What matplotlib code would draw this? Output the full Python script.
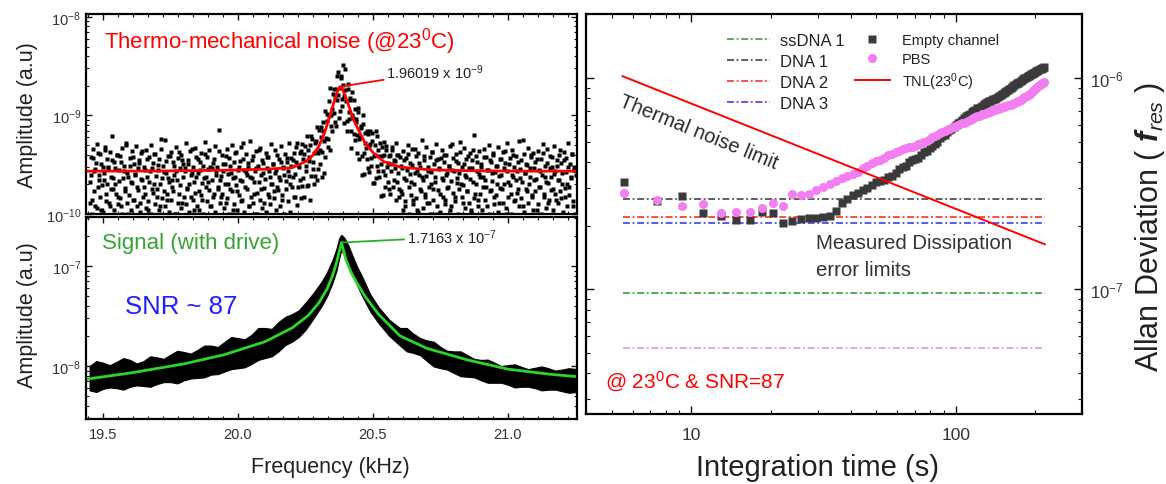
import matplotlib

matplotlib.use("Agg")
import matplotlib.pyplot as plt
import numpy as np
from matplotlib.ticker import (AutoMinorLocator, FormatStrFormatter, FuncFormatter,
                               MultipleLocator, NullFormatter)

plt.rcParams["font.family"] = ["Liberation Sans", "DejaVu Sans"]
plt.rcParams["mathtext.fontset"] = "custom"
plt.rcParams["mathtext.rm"] = "Liberation Sans"
plt.rcParams["mathtext.it"] = "Liberation Sans:italic"
plt.rcParams["mathtext.bf"] = "Liberation Sans:bold"
plt.rcParams["mathtext.bfit"] = "Liberation Sans:italic:bold"

# ---- thermo-mechanical noise spectrum (no drive), units 1e-10
# two interleaved sweeps, 4 Hz bins each, the second offset by 2 Hz
noise_f0, noise_df = 19.45, 0.004
noise_amp_a = [
    2.1, 3.8, 1.4, 4.6, 2.7, 1.2, 3.3, 5.1, 1.9, 2.5, 4.1, 1.1, 3.0, 2.2, 4.8, 1.6, 3.6, 2.9, 1.3, 4.3, 2.4, 6.2, 1.8, 3.4, 2.0,
    4.0, 1.5, 2.8, 3.9, 1.2, 4.7, 2.3, 3.1, 1.7, 5.3, 2.6, 1.0, 3.7, 2.1, 4.4, 1.4, 3.2, 2.5, 4.9, 1.9, 2.9, 3.5, 1.3, 4.2, 2.2,
    3.0, 1.6, 4.5, 2.4, 1.1, 3.8, 2.7, 5.0, 1.8, 3.3, 2.0, 4.1, 1.5, 2.8, 3.6, 1.2, 4.6, 2.3, 3.1, 1.7, 5.6, 2.6, 1.4, 3.9, 2.1,
    4.3, 1.9, 3.4, 2.5, 1.0, 4.8, 2.2, 3.7, 1.6, 2.9, 4.0, 1.3, 3.2, 2.7, 5.2, 1.8, 3.5, 2.0, 4.4, 1.5, 2.6, 3.0, 1.1, 4.7, 2.4,
    3.6, 1.7, 2.8, 4.2, 1.4, 3.1, 2.3, 5.4, 1.9, 3.8, 2.1, 4.5, 1.2, 2.9, 3.3, 1.6, 4.9, 2.5, 3.0, 1.8, 7.1, 2.2, 1.5, 4.0, 2.7,
    3.2, 1.3, 4.6, 2.0, 3.7, 1.8, 2.6, 5.0, 1.1, 3.4, 2.4, 4.3, 1.7, 3.0, 2.2, 4.8, 1.4, 3.6, 2.8, 1.9, 4.1, 2.5, 3.3, 1.2, 5.5,
    2.3, 3.9, 1.6, 2.7, 4.4, 1.0, 3.1, 2.1, 4.7, 1.8, 3.5, 2.6, 1.3, 4.2, 2.9, 3.8, 1.5, 2.4, 5.1, 2.0, 3.2, 1.7, 4.5, 2.8, 1.9,
    3.6, 2.2, 4.9, 1.4, 3.0, 2.5, 4.1, 1.8, 3.4, 2.7, 5.3, 2.0, 3.7,
    2.36, 4.16, 1.5, 3.36, 5.24, 1.87, 3.0, 4.16, 1.46, 5.08, 2.32, 4.03, 3.06, 6.25, 1.95, 3.79, 4.97, 2.44, 5.78, 3.36,
    2.03, 5.25, 4.4, 7.59, 2.88, 4.5, 7.69, 4.28, 7.02, 2.6, 11.0, 5.92, 10.4, 4.79, 9.87, 18.9, 7.84, 11.6, 18.6, 8.64,
    18.6, 14.3, 27.9, 9.35, 19.2, 25.4, 12.5, 32.4, 15.8, 18.0, 6.89, 20.9, 10.8, 15.0, 6.96, 17.1, 9.5, 6.51, 11.7, 8.5,
    4.18, 10.8, 5.78, 7.48, 2.48, 10.0, 4.2, 6.63, 4.64, 7.0, 2.91, 4.94, 6.98, 3.08, 5.53, 2.05, 4.0, 7.02, 3.06, 4.51,
    2.4, 5.25, 3.2, 3.85, 1.55, 5.44, 2.51, 4.46, 3.27, 1.78, 4.01, 2.7, 4.73, 1.88, 3.57, 2.93, 5.2, 2.13, 3.93, 1.5,
    3.1, 1.6, 4.4, 2.3, 1.2, 3.7, 2.8, 5.0, 1.9, 3.3, 2.1, 4.6, 1.4, 2.6, 3.9, 1.1, 4.2, 2.5, 3.0, 1.7, 5.7, 2.2, 3.5, 1.5, 4.8,
    2.7, 1.3, 3.8, 2.0, 4.3, 1.8, 3.2, 2.4, 5.1, 1.0, 3.6, 2.9, 1.6, 4.5, 2.2, 3.4, 1.4, 4.0, 2.6, 1.9, 3.1, 4.9, 1.2, 2.8, 3.7,
    1.5, 4.1, 2.3, 3.3, 1.8, 5.4, 2.0, 3.0, 1.3, 4.7, 2.5, 3.6, 1.7, 2.9, 4.2, 1.1, 3.5, 2.1, 6.4, 1.6, 3.9, 2.7, 1.4, 4.4, 2.4,
    3.2, 1.9, 4.6, 2.2, 3.8, 1.2, 2.8, 5.0, 1.7, 3.4, 2.6, 4.0, 1.5, 3.1, 2.0, 4.8, 1.3, 3.6, 2.5, 1.8, 4.3, 2.9, 3.3, 1.0, 5.2,
    2.1, 3.7, 1.6, 4.5, 2.4, 3.0, 1.4, 3.9, 2.7, 1.8, 5.5, 2.3, 3.5, 1.2, 4.1, 2.6, 3.2, 1.7, 4.7, 2.0, 2.9, 3.8, 1.5, 4.2, 2.2,
    3.4, 1.1, 4.4, 2.8, 1.9, 3.6, 2.5, 5.1, 1.6, 3.1, 2.1, 4.6, 1.3, 3.9, 2.4, 3.0, 1.8, 4.9, 2.7, 1.4, 3.5, 2.2, 4.0, 1.7, 3.3,
    2.6, 4.3, 1.5, 3.7, 2.0, 5.3, 1.9, 3.2, 2.4, 4.1, 1.2, 3.0, 2.8,
]
noise_amp_b = [
    1.3, 2.5, 1.0, 3.7, 1.7, 2.85, 1.15, 4.2, 2.2, 1.5, 3.25, 1.95, 1.05, 2.6, 4.5, 1.35, 2.0, 3.0, 1.2, 1.8, 3.5, 2.3, 1.1, 2.9, 1.6,
    4.0, 1.25, 2.15, 1.45, 3.4, 1.0, 2.7, 1.85, 5.0, 1.3, 2.4, 1.55, 3.1, 1.1, 2.05, 3.8, 1.4, 2.55, 1.2, 1.75, 3.3, 1.05, 2.25, 4.4, 1.5,
    1.9, 2.8, 1.15, 3.6, 1.35, 2.1, 1.0, 2.95, 1.65, 4.1, 1.25, 2.45, 1.8, 3.15, 1.1, 2.0, 5.8, 1.45, 2.65, 1.2, 3.45, 1.6, 2.3, 1.05, 3.9,
    1.4, 2.2, 1.7, 3.05, 1.0, 2.75, 1.3, 4.3, 1.95, 1.15, 3.55, 2.35, 1.5, 2.9, 1.25, 1.85, 3.2, 1.05, 2.5, 4.6, 1.4, 2.1, 1.65, 3.75, 1.2,
    2.6, 1.1, 3.35, 1.55, 2.05, 1.0, 4.05, 2.4, 1.35, 2.85, 1.75, 3.0, 1.2, 2.2, 1.5, 3.65, 1.05, 2.7, 1.9, 4.35, 1.3, 2.45, 1.6, 3.25, 1.15,
    2.0, 3.85, 1.45, 2.55, 1.0, 3.1, 1.7, 2.3, 1.25, 4.15, 1.95, 1.1, 2.8, 1.55, 3.45, 1.35, 2.15, 5.2, 1.05, 2.65, 1.8, 3.0, 1.2, 2.4, 1.5,
    3.55, 1.3, 2.1, 1.0, 2.95, 1.65, 4.45, 1.4, 2.5, 1.15, 3.3, 1.85, 2.25, 1.05, 3.8, 1.6, 2.75, 1.25, 2.0, 3.2, 1.45, 2.6, 1.1, 4.0, 1.75,
    2.35, 1.2, 3.4, 1.55, 2.9, 1.0, 2.15, 3.7, 1.35, 2.45, 1.05, 3.05, 1.9,
    3.54, 1.49, 2.55, 4.73, 1.23, 3.12, 2.21, 4.32, 1.94, 3.61, 1.49, 4.87, 2.72, 1.91, 4.43, 3.43, 1.4, 6.19, 2.89, 4.15,
    2.43, 5.46, 2.2, 4.14, 7.2, 3.25, 6.1, 2.39, 8.54, 5.53, 3.8, 8.88, 5.76, 13.9, 4.51, 10.2, 6.94, 16.5, 10.6, 15.8,
    7.75, 25.2, 16.2, 11.2, 24.0, 14.6, 20.2, 8.33, 29.8, 13.9, 8.87, 18.7, 9.18, 14.4, 4.64, 10.2, 14.5, 5.58, 9.14, 6.32,
    11.8, 3.6, 5.98, 7.8, 3.84, 8.26, 2.52, 5.3, 3.61, 6.5, 2.67, 5.17, 3.69, 6.6, 2.04, 3.9, 5.0, 2.34, 6.13, 2.71,
    3.87, 1.52, 4.79, 2.73, 3.97, 1.87, 4.86, 2.97, 2.13, 3.89, 1.61, 3.18, 4.41, 2.19, 3.41, 1.39, 3.98, 2.58, 1.81, 3.75,
    1.7, 2.9, 1.1, 3.5, 1.35, 2.2, 4.1, 1.0, 2.55, 1.55, 3.15, 1.25, 2.0, 4.6, 1.45, 2.7, 1.05, 3.3, 1.8, 2.35, 1.15, 3.9, 1.6, 2.45, 1.3,
    3.0, 1.9, 1.0, 2.65, 4.25, 1.4, 2.1, 3.55, 1.2, 1.75, 2.85, 1.05, 3.7, 2.3, 1.5, 4.0, 1.25, 2.5, 1.85, 3.1, 1.1, 2.15, 5.1, 1.65, 2.75,
    1.35, 3.45, 2.05, 1.0, 2.6, 4.3, 1.5, 1.95, 3.2, 1.15, 2.4, 1.7, 3.85, 1.3, 2.25, 1.05, 2.9, 4.5, 1.45, 2.0, 3.35, 1.2, 2.55, 1.6, 3.0,
    1.1, 2.35, 3.75, 1.4, 1.9, 2.8, 1.0, 3.5, 1.75, 2.15, 4.15, 1.25, 2.65, 1.55, 3.05, 1.05, 2.45, 1.85, 3.6, 1.3, 2.0, 4.4, 1.15, 2.7, 1.5,
    3.25, 1.95, 1.0, 2.5, 3.95, 1.35, 2.2, 1.65, 3.4, 1.2, 2.85, 1.45, 2.1, 5.6, 1.05, 2.6, 1.8, 3.15, 1.3, 2.35, 4.0, 1.55, 1.1, 2.95, 1.7,
    2.25, 3.65, 1.25, 1.9, 2.75, 1.0, 4.2, 1.5, 2.4, 1.15, 3.3, 2.05, 1.4, 2.9, 1.75, 3.8, 1.1, 2.55, 1.6, 3.1, 1.3, 2.2, 4.45, 1.45, 2.0,
    1.05, 3.5, 1.85, 2.65, 1.2, 3.0, 1.55, 2.3, 4.1, 1.35, 2.8, 1.0, 2.5,
]
# Lorentzian fit of the noise peak (units 1e-10)
noise_fit_f = [19.44, 19.70, 19.95, 20.10, 20.20, 20.25, 20.28, 20.30, 20.32, 20.34, 20.355, 20.37, 20.378,
               20.386, 20.40, 20.415, 20.43, 20.45, 20.47, 20.50, 20.54, 20.60, 20.70, 20.85, 21.05, 21.26]
noise_fit_a = [2.72, 2.73, 2.78, 2.85, 2.95, 3.4, 4.0, 4.9, 6.6, 9.8, 13.5, 18.0, 19.6,
               18.8, 15.0, 11.5, 8.8, 6.8, 5.3, 4.2, 3.4, 3.0, 2.82, 2.75, 2.72, 2.72]
noise_peak = (20.378, 1.96019e-9)

# ---- driven signal: envelope of the measured trace and its fit (units 1e-8)
sig_f = [19.45, 19.475, 19.50, 19.525, 19.55, 19.575, 19.60, 19.625, 19.65, 19.675, 19.70, 19.725,
         19.75, 19.775, 19.80, 19.825, 19.85, 19.875, 19.90, 19.925, 19.95, 19.975, 20.00, 20.025,
         20.05, 20.075, 20.10, 20.125, 20.15, 20.175, 20.20, 20.225, 20.25,
         20.28, 20.31, 20.33, 20.35, 20.365, 20.375, 20.383, 20.395, 20.41, 20.425, 20.44, 20.46,
         20.49, 20.52, 20.56,
         20.60, 20.625, 20.65, 20.675, 20.70, 20.725, 20.75, 20.775, 20.80, 20.825, 20.85, 20.875,
         20.90, 20.925, 20.95, 20.975, 21.00, 21.025, 21.05, 21.075, 21.10, 21.125, 21.15, 21.175,
         21.20, 21.225, 21.26]
sig_upper = [1.0, 1.12, 1.08, 1.02, 1.1, 1.2, 1.15, 1.06, 1.12, 1.25, 1.22, 1.18,
             1.3, 1.42, 1.38, 1.33, 1.45, 1.6, 1.6, 1.55, 1.74, 1.95, 1.9, 1.85,
             2.05, 2.4, 2.4, 2.35, 2.75, 3.1, 3.3, 3.6, 4.3,
             5.4, 7.0, 8.7, 11.5, 15.0, 19.0, 20.5, 19.0, 15.8, 12.5, 10.0, 7.8,
             5.2, 3.9, 2.9,
             2.4, 2.4, 2.1, 1.9, 1.8, 1.75, 1.55, 1.42, 1.4, 1.4, 1.28, 1.18,
             1.15, 1.16, 1.08, 1.0, 1.02, 1.04, 0.98, 0.93, 0.96, 0.99, 0.95, 0.9,
             0.92, 0.95, 0.93]
sig_lower = [0.57, 0.55, 0.59, 0.61, 0.6, 0.58, 0.62, 0.64, 0.63, 0.62, 0.66, 0.69,
             0.69, 0.67, 0.72, 0.75, 0.76, 0.77, 0.82, 0.83, 0.88, 0.93, 0.95, 0.97,
             1.05, 1.15, 1.2, 1.25, 1.4, 1.62, 1.75, 1.95, 2.3,
             3.0, 4.0, 5.0, 6.8, 9.0, 12.0, 14.5, 12.5, 10.5, 8.2, 6.5, 5.0,
             3.5, 2.7, 2.0,
             1.6, 1.4, 1.35, 1.28, 1.12, 0.99, 0.95, 0.92, 0.85, 0.79, 0.78, 0.77,
             0.72, 0.68, 0.68, 0.68, 0.65, 0.61, 0.62, 0.62, 0.6, 0.57, 0.58, 0.58,
             0.56, 0.54, 0.55]
sig_fit_f = [19.44, 19.60, 19.80, 19.95, 20.10, 20.20, 20.26, 20.30, 20.33, 20.35, 20.365, 20.383,
             20.40, 20.42, 20.44, 20.47, 20.52, 20.60, 20.70, 20.85, 21.00, 21.15, 21.26]
sig_fit_a = [0.74, 0.85, 1.05, 1.3, 1.75, 2.4, 3.2, 4.3, 5.9, 8.0, 10.8, 17.2,
             11.5, 8.5, 6.8, 5.0, 3.3, 2.0, 1.5, 1.15, 0.93, 0.83, 0.78]
sig_peak = (20.383, 1.7163e-7)

# ---- Allan deviation vs integration time (deviation units 1e-7)
tau = [5.55, 7.4, 9.25, 11.1, 12.95, 14.8, 16.65, 18.5, 20.35, 22.2, 24.05, 25.9, 27.75, 29.6, 31.45,
       33.3, 35.15, 37.0, 38.85, 40.7, 42.55, 44.4, 46.25, 48.1, 49.95, 51.8, 53.65, 55.5, 57.35, 59.2,
       61.05, 62.9, 64.75, 66.6, 68.45, 70.3, 72.15, 74.0, 75.85, 77.7, 79.55, 81.4, 83.25, 85.1, 86.95,
       88.8, 90.65, 92.5, 94.35, 96.2, 98.05, 99.9, 101.75, 103.6, 105.45, 107.3, 109.15, 111.0, 112.85,
       114.7, 116.55, 118.4, 120.25, 122.1, 123.95, 125.8, 127.65, 129.5, 131.35, 133.2, 135.05, 136.9,
       138.75, 140.6, 142.45, 144.3, 146.15, 148.0, 149.85, 151.7, 153.55, 155.4, 157.25, 159.1, 160.95,
       162.8, 164.65, 166.5, 168.35, 170.2, 172.05, 173.9, 175.75, 177.6, 179.45, 181.3, 183.15, 185.0,
       186.85, 188.7, 190.55, 192.4, 194.25, 196.1, 197.95, 199.8, 201.65, 203.5, 205.35, 207.2, 209.05,
       210.9, 212.75, 214.6]
empty_dev = [3.21, 2.61, 2.76, 2.29, 2.22, 2.12, 2.12, 2.32, 2.29, 2.06, 2.10, 2.15, 2.18, 2.18, 2.2,
             2.22, 2.35, 2.55, 2.68, 2.78, 2.85, 2.95, 3.02, 3.1, 3.2, 3.25, 3.3, 3.4, 3.45, 3.55,
             3.7, 3.8, 3.85, 4.0, 4.1, 4.15, 4.2, 4.3, 4.45, 4.5, 4.65, 4.75, 4.85, 5.0, 5.2,
             5.3, 5.4, 5.55, 5.68, 5.75, 5.85, 5.98, 6.12, 6.2, 6.3, 6.45, 6.58, 6.65, 6.75,
             6.9, 7.0, 7.05, 7.18, 7.25, 7.3, 7.4, 7.52, 7.6, 7.7, 7.75, 7.8, 7.85,
             7.92, 7.98, 8.08, 8.15, 8.22, 8.3, 8.42, 8.5, 8.55, 8.65, 8.78, 8.85, 8.95,
             9.05, 9.18, 9.25, 9.35, 9.45, 9.5, 9.6, 9.72, 9.8, 9.88, 9.95, 10.05, 10.1,
             10.2, 10.25, 10.32, 10.4, 10.5, 10.55, 10.62, 10.7, 10.8, 10.85, 10.95, 11.0, 11.05,
             11.1, 11.2, 11.25]
pbs_dev = [2.85, 2.64, 2.47, 2.52, 2.29, 2.32, 2.32, 2.42, 2.56, 2.47, 2.82, 2.8, 2.83, 2.95, 3.05,
           3.15, 3.25, 3.35, 3.45, 3.5, 3.6, 3.75, 3.85, 3.95, 4.04, 4.1, 4.2, 4.3, 4.38, 4.45,
           4.52, 4.6, 4.65, 4.7, 4.72, 4.78, 4.85, 4.92, 4.98, 5.05, 5.15, 5.25, 5.32, 5.4, 5.48,
           5.55, 5.62, 5.68, 5.75, 5.82, 5.88, 5.93, 6.0, 6.05, 6.1, 6.15, 6.22, 6.28, 6.35,
           6.42, 6.5, 6.55, 6.58, 6.62, 6.68, 6.72, 6.76, 6.8, 6.85, 6.9, 6.94, 6.98,
           7.02, 7.05, 7.1, 7.15, 7.2, 7.25, 7.28, 7.32, 7.36, 7.4, 7.42, 7.45, 7.48,
           7.52, 7.57, 7.62, 7.66, 7.7, 7.76, 7.82, 7.88, 7.95, 8.02, 8.1, 8.15, 8.2,
           8.28, 8.35, 8.42, 8.5, 8.6, 8.7, 8.78, 8.87, 8.96, 9.05, 9.15, 9.25, 9.35,
           9.45, 9.52, 9.6]
tnl_tau = [5.5, 217]
tnl_dev = [1.02e-6, 1.63e-7]

# measured dissipation error limits
limit_names = ["ssDNA 1", "DNA 1", "DNA 2", "DNA 3"]
limit_levels = [9.6e-8, 2.67e-7, 2.19e-7, 2.06e-7]
limit_colors = ["#1f9a1f", "#333333", "#ff1a1a", "#2a2aff"]
pbs_limit = 5.25e-8
limit_tau = [5.5, 217]

PINK = "#f27ef2"
DARK = "#3a3a3a"
TXT = "#222222"
DASH = (4.5, 1.8, 1.2, 1.8)


def style_axes(ax, major=4.5, minor=2.2):
    for s in ax.spines.values():
        s.set_linewidth(1.6)
    ax.tick_params(which="both", direction="in", top=True, right=True, colors="#111",
                   labelcolor="#333")
    ax.tick_params(which="major", length=major, width=1.0)
    ax.tick_params(which="minor", length=minor, width=0.8)


fig = plt.figure(figsize=(11.66, 4.85), dpi=100)
ax1 = fig.add_axes([0.0738, 0.5567, 0.4211, 0.4124])
ax2 = fig.add_axes([0.0738, 0.134, 0.4211, 0.4165])
ax3 = fig.add_axes([0.5026, 0.1443, 0.4254, 0.8247])

# ---- top left: thermo-mechanical noise
freq_a = noise_f0 + noise_df * np.arange(len(noise_amp_a))
freq_b = noise_f0 + noise_df / 2 + noise_df * np.arange(len(noise_amp_b))
for fr, am in ((freq_a, noise_amp_a), (freq_b, noise_amp_b)):
    ax1.plot(fr, np.array(am) * 1e-10, ls="none", marker="s", ms=2.8, mfc="k", mec="none")
ax1.plot(noise_fit_f, np.array(noise_fit_a) * 1e-10, color="red", lw=2)
ax1.set_yscale("log")
ax1.set_ylim(1.0e-10, 1.07e-8)
ax1.annotate("1.96019 x 10$^{-9}$", xy=noise_peak, xytext=(20.55, 2.78e-9),
             fontsize=10.5, color=TXT, va="center",
             arrowprops=dict(arrowstyle="-", color="red", lw=1.3, shrinkA=0, shrinkB=0))
ax1.text(0.037, 0.865, "Thermo-mechanical noise (@23$^0$C)", transform=ax1.transAxes,
         color="red", fontsize=16, va="center")
ax1.tick_params(labelbottom=False)

# ---- bottom left: driven signal
ax2.fill_between(sig_f, np.array(sig_lower) * 1e-8, np.array(sig_upper) * 1e-8,
                 color="k", lw=0.8, edgecolor="k")
ax2.plot(sig_fit_f, np.array(sig_fit_a) * 1e-8, color="#2bd62b", lw=2)
ax2.set_yscale("log")
ax2.set_ylim(2.95e-9, 3.09e-7)
ax2.annotate("1.7163 x 10$^{-7}$", xy=sig_peak, xytext=(20.626, 1.95e-7),
             fontsize=10.5, color=TXT, va="center",
             arrowprops=dict(arrowstyle="-", color="#2bb02b", lw=1.3, shrinkA=0, shrinkB=0))
ax2.text(0.033, 0.876, "Signal (with drive)", transform=ax2.transAxes,
         color="#34a534", fontsize=16, va="center")
ax2.text(0.079, 0.56, "SNR ~ 87", transform=ax2.transAxes,
         color="#2020ff", fontsize=18.5, va="center")
ax2.xaxis.set_major_formatter(FormatStrFormatter("%.1f"))
ax2.set_xlabel("Frequency (kHz)", fontsize=15.5, color=TXT)
ax2.xaxis.set_label_coords(0.497, -0.183)

for ax, ycen in ((ax1, 0.5), (ax2, 0.52)):
    ax.set_xlim(19.437, 21.256)
    ax.xaxis.set_major_locator(MultipleLocator(0.5))
    ax.xaxis.set_minor_locator(AutoMinorLocator(9))
    ax.yaxis.set_minor_formatter(NullFormatter())
    ax.set_ylabel("Amplitude (a.u)", fontsize=15.5, color=TXT)
    ax.yaxis.set_label_coords(-0.098, ycen)
    style_axes(ax)
    ax.tick_params(labelsize=10.5)
ax2.tick_params(axis="x", pad=6)

# ---- right: Allan deviation
for name, lev, col in zip(limit_names, limit_levels, limit_colors):
    ax3.plot(limit_tau, [lev, lev], color=col, lw=1.1, dashes=DASH, label=name, zorder=1)
ax3.plot(limit_tau, [pbs_limit, pbs_limit], color=PINK, lw=1.1, dashes=DASH,
         label="_nolegend_", zorder=1)
ax3.plot(tau, np.array(empty_dev) * 1e-7, ls="none", marker="s", ms=6.0, mfc=DARK,
         mec="none", label="Empty channel", zorder=2)
ax3.plot(tau, np.array(pbs_dev) * 1e-7, ls="none", marker="o", ms=6.5, mfc=PINK,
         mec="none", label="PBS", zorder=3)
ax3.plot(tnl_tau, tnl_dev, color="red", lw=1.4, label="TNL(23$^0$C)", zorder=4)

ax3.set_xscale("log")
ax3.set_yscale("log")
ax3.set_xlim(4, 300)
ax3.set_ylim(2.56e-8, 2.01e-6)
ax3.xaxis.set_major_formatter(FuncFormatter(lambda v, p: f"{v:g}"))
ax3.xaxis.set_minor_formatter(NullFormatter())
ax3.yaxis.set_minor_formatter(NullFormatter())
style_axes(ax3, major=5.5, minor=2.8)
ax3.tick_params(labelleft=False, labelright=True)
ax3.tick_params(axis="x", labelsize=12.5, pad=9)
ax3.tick_params(axis="y", labelsize=12, pad=6)

ax3.text(10.7, 5.55e-7, "Thermal noise limit", rotation=-22, fontsize=14.5, color="#2a2a2a",
         ha="center", va="center")
ax3.text(29.5, 1.44e-7, "Measured Dissipation\nerror limits", fontsize=14.7, color="#333",
         ha="left", va="center", linespacing=1.55)
ax3.text(4.72, 3.66e-8, "@ 23$^0$C & SNR=87", fontsize=15, color="red", va="center")

h, l = ax3.get_legend_handles_labels()
leg1 = ax3.legend(h[:4], l[:4], loc="upper left", bbox_to_anchor=(0.284, 0.952),
                  frameon=False, fontsize=12, handlelength=2.6, handletextpad=0.6,
                  labelspacing=0.36, borderpad=0, borderaxespad=0)
for t in leg1.get_texts():
    t.set_color(TXT)
ax3.add_artist(leg1)
leg2 = ax3.legend(h[4:], l[4:], loc="upper left", bbox_to_anchor=(0.542, 0.952),
                  frameon=False, fontsize=10.5, handlelength=2.4, handletextpad=0.8,
                  labelspacing=0.3, borderpad=0, borderaxespad=0)
for t in leg2.get_texts():
    t.set_color(TXT)

ax3.set_xlabel("Integration time (s)", fontsize=21, color=TXT)
ax3.xaxis.set_label_coords(0.466, -0.0975)
ax3.yaxis.set_label_position("right")
ax3.set_ylabel(r"Allan Deviation ( $\mathbfit{f}_{res}$ )", fontsize=22, color=TXT)
ax3.yaxis.set_label_coords(1.103, 0.47)

fig.savefig("out.png", dpi=100)
print("wrote out.png")
